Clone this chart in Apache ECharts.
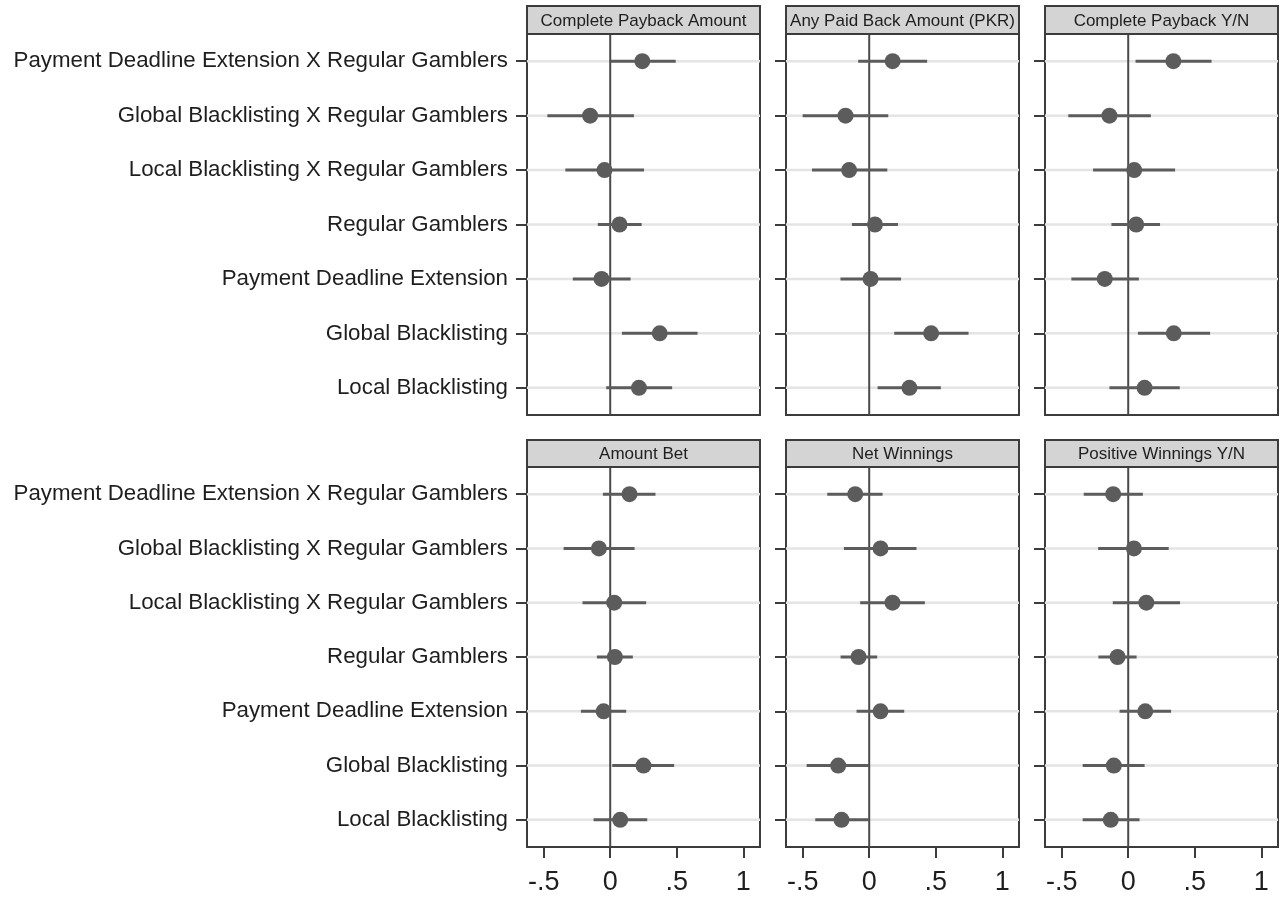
<!DOCTYPE html>
<html>
<head>
<meta charset="utf-8">
<title>Coefficient plots</title>
<script src="https://cdn.jsdelivr.net/npm/echarts@6/dist/echarts.min.js"></script>
<style>
  html, body { margin: 0; padding: 0; background: #ffffff; }
  #chart { width: 1284px; height: 897px; }
</style>
</head>
<body>
<div id="chart"></div>
<script>
// Regressors, listed top to bottom
const categories = [
  'Payment Deadline Extension X Regular Gamblers',
  'Global Blacklisting X Regular Gamblers',
  'Local Blacklisting X Regular Gamblers',
  'Regular Gamblers',
  'Payment Deadline Extension',
  'Global Blacklisting',
  'Local Blacklisting'
];

const panelTitles = [
  'Complete Payback Amount', 'Any Paid Back Amount (PKR)', 'Complete Payback Y/N',
  'Amount Bet', 'Net Winnings', 'Positive Winnings Y/N'
];

const xTickValues = [-0.5, 0, 0.5, 1];
const xTickLabels = ['-.5', '0', '.5', '1'];

// Point estimates and 95% confidence bounds, one array per outcome
const paybackAmountEst = [0.241, -0.151, -0.043, 0.070, -0.065, 0.372, 0.216];
const paybackAmountLo  = [0.005, -0.472, -0.337, -0.093, -0.281, 0.088, -0.030];
const paybackAmountHi  = [0.492, 0.178, 0.254, 0.236, 0.153, 0.656, 0.465];

const anyPaidEst = [0.176, -0.178, -0.151, 0.043, 0.010, 0.465, 0.302];
const anyPaidLo  = [-0.083, -0.500, -0.430, -0.130, -0.216, 0.188, 0.063];
const anyPaidHi  = [0.435, 0.143, 0.136, 0.216, 0.239, 0.746, 0.538];

const paybackYNEst = [0.339, -0.141, 0.045, 0.060, -0.176, 0.342, 0.123];
const paybackYNLo  = [0.055, -0.450, -0.264, -0.126, -0.427, 0.073, -0.141];
const paybackYNHi  = [0.626, 0.170, 0.352, 0.239, 0.080, 0.615, 0.387];

const amountBetEst = [0.145, -0.085, 0.030, 0.035, -0.050, 0.250, 0.075];
const amountBetLo  = [-0.055, -0.350, -0.208, -0.100, -0.220, 0.015, -0.125];
const amountBetHi  = [0.340, 0.183, 0.270, 0.170, 0.120, 0.480, 0.278];

const netWinEst = [-0.105, 0.085, 0.175, -0.080, 0.085, -0.233, -0.208];
const netWinLo  = [-0.315, -0.190, -0.068, -0.215, -0.095, -0.470, -0.405];
const netWinHi  = [0.100, 0.355, 0.418, 0.060, 0.263, 0.000, 0.000];

const posWinEst = [-0.113, 0.043, 0.136, -0.080, 0.128, -0.108, -0.131];
const posWinLo  = [-0.334, -0.226, -0.116, -0.224, -0.065, -0.342, -0.342];
const posWinHi  = [0.110, 0.304, 0.389, 0.063, 0.322, 0.123, 0.085];

const panels = [
  [paybackAmountEst, paybackAmountLo, paybackAmountHi],
  [anyPaidEst, anyPaidLo, anyPaidHi],
  [paybackYNEst, paybackYNLo, paybackYNHi],
  [amountBetEst, amountBetLo, amountBetHi],
  [netWinEst, netWinLo, netWinHi],
  [posWinEst, posWinLo, posWinHi]
];

// Layout of the 2 x 3 panel grid (pixels)
const colLeft = [527, 786, 1045];
const colWidth = 233;
const rowTop = [34, 467];
const rowHeight = [381, 380];
const stripTop = [6, 440];

const FONT = '"Liberation Sans", Arial, sans-serif';
const DARK = '#3c3c3c';
const MARK = '#5c5c5c';

const grids = [], xAxes = [], yAxes = [], series = [], graphics = [];

panels.forEach(function (p, k) {
  const row = Math.floor(k / 3), col = k % 3;
  const est = p[0], lo = p[1], hi = p[2];

  grids.push({
    left: colLeft[col], top: rowTop[row], width: colWidth, height: rowHeight[row],
    show: true, borderColor: DARK, borderWidth: 2, backgroundColor: '#ffffff'
  });

  const bottomRow = row === 1;
  xAxes.push({
    gridIndex: k, type: 'value', min: -0.625, max: 1.125,
    axisLine: { show: true, onZero: false, lineStyle: { color: DARK, width: 2 } },
    axisTick: bottomRow
      ? { show: true, customValues: xTickValues, length: 11, lineStyle: { color: DARK, width: 2 } }
      : { show: false },
    axisLabel: bottomRow
      ? {
          show: true, customValues: xTickValues, margin: 22,
          fontFamily: FONT, fontSize: 27, color: '#1e1e1e',
          formatter: function (v) {
            const i = xTickValues.findIndex(function (t) { return Math.abs(t - v) < 1e-9; });
            return i >= 0 ? xTickLabels[i] : '';
          }
        }
      : { show: false },
    splitLine: { show: false }
  });

  yAxes.push({
    gridIndex: k, type: 'category', data: categories, inverse: true,
    axisLine: { show: true, onZero: false, lineStyle: { color: DARK, width: 2 } },
    axisTick: { show: true, alignWithLabel: true, length: 11, lineStyle: { color: DARK, width: 2 } },
    axisLabel: col === 0
      ? { show: true, margin: 19, fontFamily: FONT, fontSize: 22.3, color: '#1e1e1e' }
      : { show: false },
    splitLine: { show: false }
  });

  // Confidence intervals, a light reference line at each regressor,
  // and (once per panel) the vertical line at zero
  series.push({
    type: 'custom', xAxisIndex: k, yAxisIndex: k, z: 3, silent: true,
    data: categories.map(function (c, i) { return [lo[i], hi[i], i]; }),
    encode: { x: [0, 1], y: 2 },
    renderItem: function (params, api) {
      const cs = params.coordSys;
      const a = api.coord([api.value(0), api.value(2)]);
      const b = api.coord([api.value(1), api.value(2)]);
      const children = [
        {
          type: 'line', z2: 0,
          shape: { x1: cs.x, y1: a[1], x2: cs.x + cs.width, y2: a[1] },
          style: { stroke: '#e4e4e4', lineWidth: 2.5 }
        },
        {
          type: 'line', z2: 10,
          shape: { x1: a[0], y1: a[1], x2: b[0], y2: b[1] },
          style: { stroke: MARK, lineWidth: 3 }
        }
      ];
      if (params.dataIndex === 0) {
        const z = api.coord([0, 0]);
        children.push({
          type: 'line', z2: 5,
          shape: { x1: z[0], y1: cs.y, x2: z[0], y2: cs.y + cs.height },
          style: { stroke: '#4a4a4a', lineWidth: 2 }
        });
      }
      return { type: 'group', children: children };
    }
  });

  // Point estimates
  series.push({
    type: 'scatter', xAxisIndex: k, yAxisIndex: k, z: 4, silent: true,
    symbol: 'circle', symbolSize: 16,
    itemStyle: { color: MARK, opacity: 1 },
    data: categories.map(function (c, i) { return [est[i], i]; })
  });

  // Grey title strip above each panel
  graphics.push({
    type: 'rect', z: 10,
    shape: { x: colLeft[col], y: stripTop[row], width: colWidth, height: rowTop[row] - stripTop[row] },
    style: { fill: '#d4d4d4', stroke: DARK, lineWidth: 2 }
  });
  graphics.push({
    type: 'text', z: 11,
    x: colLeft[col] + colWidth / 2,
    y: (stripTop[row] + rowTop[row]) / 2 + 1,
    style: {
      text: panelTitles[k], fill: '#1e1e1e',
      font: '17px ' + FONT, align: 'center', verticalAlign: 'middle'
    }
  });
});

const chart = echarts.init(document.getElementById('chart'), null, { renderer: 'canvas' });
chart.setOption({
  animation: false,
  backgroundColor: '#ffffff',
  grid: grids,
  xAxis: xAxes,
  yAxis: yAxes,
  series: series,
  graphic: graphics
});
</script>
</body>
</html>
